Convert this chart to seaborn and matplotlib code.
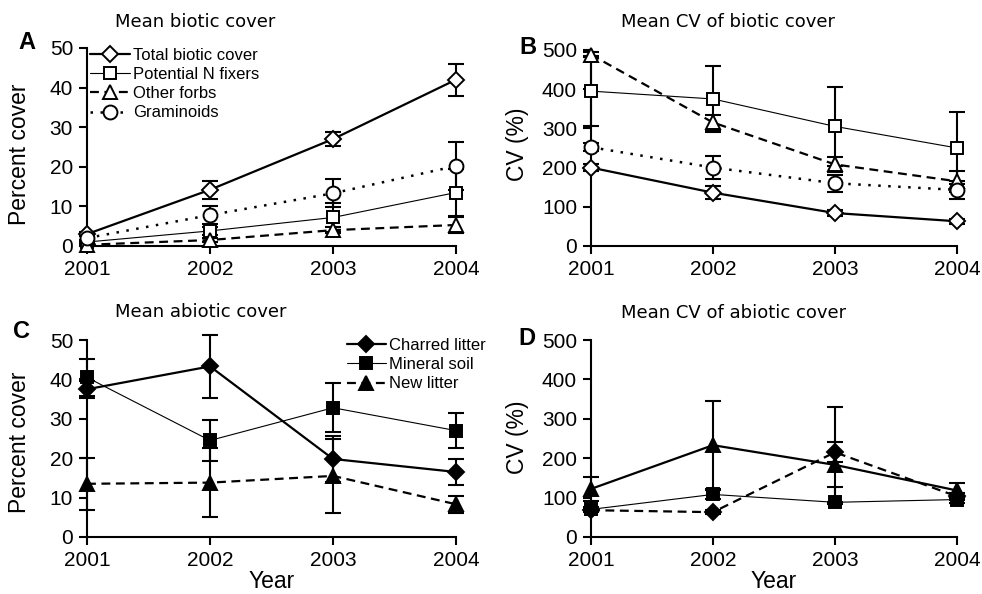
import matplotlib
matplotlib.use("Agg")
import matplotlib.pyplot as plt
import seaborn as sns
import pandas as pd

years = [2001, 2002, 2003, 2004]

# A - mean biotic cover (%)
total_cov = [3.0, 14.2, 27.0, 42.0]
total_cov_se = [0.5, 2.3, 1.7, 4.0]
nfix_cov = [1.0, 3.8, 7.2, 13.5]
nfix_cov_se = [0.3, 1.0, 3.6, 6.0]
forbs_cov = [0.3, 1.5, 4.0, 5.3]
forbs_cov_se = [0.2, 0.5, 0.8, 2.0]
gram_cov = [2.0, 7.8, 13.3, 20.2]
gram_cov_se = [0.5, 2.3, 3.5, 6.1]

# B - mean CV of biotic cover (%)
total_cv = [200, 136, 84, 63]
total_cv_se = [8, 16, 8, 6]
nfix_cv = [395, 375, 305, 250]
nfix_cv_se = [90, 85, 100, 92]
forbs_cv = [488, 315, 208, 165]
forbs_cv_se = [6, 20, 20, 27]
gram_cv = [252, 200, 160, 143]
gram_cv_se = [10, 30, 22, 24]

# C - mean abiotic cover (%)
charred_cov = [37.5, 43.3, 19.8, 16.5]
charred_cov_se = [2.2, 8.0, 5.9, 3.4]
mineral_cov = [40.5, 24.5, 32.8, 27.0]
mineral_cov_se = [4.7, 5.1, 6.2, 4.5]
newlit_cov = [13.5, 13.8, 15.5, 8.3]
newlit_cov_se = [6.6, 8.7, 9.4, 2.2]

# D - mean CV of abiotic cover (%)
charred_cv = [68, 63, 215, 103]
charred_cv_se = [5, 5, 25, 8]
mineral_cv = [70, 108, 88, 95]
mineral_cv_lo = [5, 12, 5, 10]
mineral_cv_hi = [5, 12, 40, 10]
newlit_cv = [122, 233, 183, 118]
newlit_cv_lo = [30, 112, 95, 18]
newlit_cv_hi = [30, 112, 148, 18]

biotic_names = ["Total biotic cover", "Potential N fixers", "Other forbs", "Graminoids"]
abiotic_names = ["Charred litter", "Mineral soil", "New litter"]

sns.set_theme(style="ticks")
plt.rcParams["font.family"] = ["Liberation Sans", "DejaVu Sans"]
plt.rcParams["text.color"] = "black"
plt.rcParams["axes.labelcolor"] = "black"

fig = plt.figure(figsize=(9.82, 5.94), dpi=100)
axA = fig.add_axes([0.0886, 0.5859, 0.3758, 0.3333])
axB = fig.add_axes([0.6018, 0.5859, 0.3727, 0.3300])
axC = fig.add_axes([0.0886, 0.0960, 0.3758, 0.3316])
axD = fig.add_axes([0.6018, 0.0960, 0.3727, 0.3316])

thick = 1.6
thin = 0.8
dashed = (0, (4, 2.5))
dotted = (0, (1, 3))
msize = {"D": 8, "s": 9, "^": 10.5, "o": 10}


def series(ax, y, lo, hi, marker, ls, lw, fill, label=None):
    ax.errorbar(years, y, yerr=[lo, hi], fmt="none", ecolor="black",
                elinewidth=1.5, capsize=5.5, capthick=1.5, zorder=2, clip_on=False)
    df = pd.DataFrame({"year": years, "value": y})
    sns.lineplot(data=df, x="year", y="value", ax=ax, color="black", errorbar=None,
                 marker=marker, markersize=msize[marker], markerfacecolor=fill,
                 markeredgecolor="black", markeredgewidth=1.4, linestyle=ls,
                 linewidth=lw, label=label, zorder=3, clip_on=False)


# A
series(axA, total_cov, total_cov_se, total_cov_se, "D", "-", thick, "white", biotic_names[0])
series(axA, nfix_cov, nfix_cov_se, nfix_cov_se, "s", "-", thin, "white", biotic_names[1])
series(axA, forbs_cov, forbs_cov_se, forbs_cov_se, "^", dashed, thick, "white", biotic_names[2])
series(axA, gram_cov, gram_cov_se, gram_cov_se, "o", dotted, 1.8, "white", biotic_names[3])

# B
series(axB, total_cv, total_cv_se, total_cv_se, "D", "-", thick, "white")
series(axB, nfix_cv, nfix_cv_se, nfix_cv_se, "s", "-", thin, "white")
series(axB, forbs_cv, forbs_cv_se, forbs_cv_se, "^", dashed, thick, "white")
series(axB, gram_cv, gram_cv_se, gram_cv_se, "o", dotted, 1.8, "white")

# C
series(axC, charred_cov, charred_cov_se, charred_cov_se, "D", "-", thick, "black", abiotic_names[0])
series(axC, mineral_cov, mineral_cov_se, mineral_cov_se, "s", "-", thin, "black", abiotic_names[1])
series(axC, newlit_cov, newlit_cov_se, newlit_cov_se, "^", dashed, thick, "black", abiotic_names[2])

# D (line styles as drawn in the original)
series(axD, charred_cv, charred_cv_se, charred_cv_se, "D", dashed, thick, "black")
series(axD, mineral_cv, mineral_cv_lo, mineral_cv_hi, "s", "-", thin, "black")
series(axD, newlit_cv, newlit_cv_lo, newlit_cv_hi, "^", "-", thick, "black")

for ax, top, ylab in [(axA, 50, "Percent cover"), (axB, 500, "CV (%)"),
                      (axC, 50, "Percent cover"), (axD, 500, "CV (%)")]:
    ax.set_xlim(2001, 2004)
    ax.set_ylim(0, top)
    ax.set_xticks(years)
    ax.set_xticklabels([str(y) for y in years])
    ax.set_yticks([top * i / 5 for i in range(6)])
    ax.set_yticklabels([str(int(top * i / 5)) for i in range(6)])
    for s in ["top", "right"]:
        ax.spines[s].set_visible(False)
    for s in ["left", "bottom"]:
        ax.spines[s].set_linewidth(1.5)
        ax.spines[s].set_color("black")
    ax.tick_params(direction="out", length=6, width=1.5, colors="black",
                   labelcolor="black", labelsize=15, pad=4)
    ax.set_ylabel(ylab, fontsize=16.5, color="black")
    ax.set_xlabel("")
    if ax.get_legend() is not None:
        ax.get_legend().remove()

axA.yaxis.set_label_coords(-0.152, 0.465)
axC.yaxis.set_label_coords(-0.152, 0.482)
axB.yaxis.set_label_coords(-0.17, 0.52)
axD.yaxis.set_label_coords(-0.17, 0.508)
for ax in (axC, axD):
    ax.set_xlabel("Year", fontsize=16.5, color="black")
    ax.xaxis.set_label_coords(0.5, -0.168)

legA = axA.legend(loc="upper left", bbox_to_anchor=(0.008, 1.0), frameon=False,
                  fontsize=12, handlelength=2.4, handletextpad=0.2, labelspacing=0.25,
                  borderpad=0, borderaxespad=0, numpoints=1, labelcolor="black")
legC = axC.legend(loc="upper left", bbox_to_anchor=(0.705, 1.01), frameon=False,
                  fontsize=12, handlelength=2.3, handletextpad=0.2, labelspacing=0.25,
                  borderpad=0, borderaxespad=0, numpoints=1, labelcolor="black")

# panel letters and titles
for x, y, letter in [(18, 31, "A"), (519, 36, "B"), (13, 320, "C"), (518, 327, "D")]:
    fig.text(x / 982, 1 - y / 594, letter, fontsize=17, fontweight="bold",
             ha="left", va="top", color="black")
for x, y, title in [(115, 27, "Mean biotic cover"), (621, 27, "Mean CV of biotic cover"),
                    (115, 317, "Mean abiotic cover"), (621, 318, "Mean CV of abiotic cover")]:
    fig.text(x / 982, 1 - y / 594, title, fontsize=13, family="DejaVu Sans",
             ha="left", va="baseline", color="black")

fig.savefig("out.png", dpi=100)
